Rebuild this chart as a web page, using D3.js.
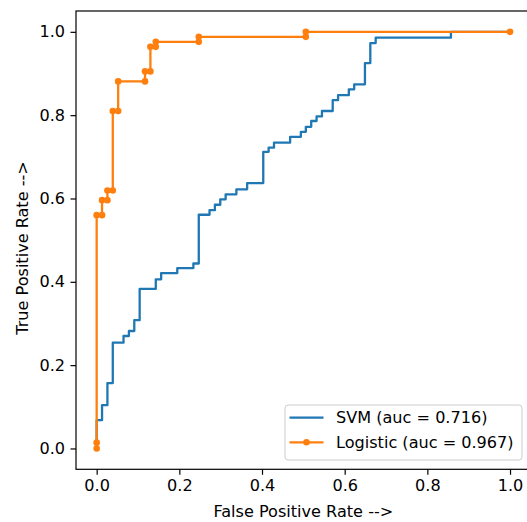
<!DOCTYPE html>
<html>
<head>
<meta charset="utf-8">
<script src="https://cdn.jsdelivr.net/npm/d3@7"></script>
<style>
  html, body { margin: 0; padding: 0; background: #fff; }
  #chart { width: 527px; height: 522px; overflow: hidden; }
  svg { display: block; font-family: "DejaVu Sans", sans-serif; }
</style>
</head>
<body>
<div id="chart"></div>
<script>
// ROC curve points (fpr, tpr)
const svmFpr = [0, 0, 0.013, 0.013, 0.026, 0.026, 0.039, 0.039, 0.065, 0.065, 0.078, 0.078, 0.091, 0.091,
  0.104, 0.104, 0.143, 0.143, 0.156, 0.156, 0.195, 0.195, 0.234, 0.234, 0.247, 0.247, 0.273, 0.273,
  0.286, 0.286, 0.299, 0.299, 0.312, 0.312, 0.338, 0.338, 0.364, 0.364, 0.403, 0.403, 0.416, 0.416,
  0.429, 0.429, 0.468, 0.468, 0.494, 0.494, 0.506, 0.506, 0.519, 0.519, 0.532, 0.532, 0.545, 0.545,
  0.571, 0.571, 0.584, 0.584, 0.610, 0.610, 0.623, 0.623, 0.649, 0.649, 0.662, 0.662, 0.675, 0.675,
  0.857, 0.857, 1];
const svmTpr = [0, 0.068, 0.068, 0.104, 0.104, 0.157, 0.157, 0.254, 0.254, 0.270, 0.270, 0.282, 0.282, 0.308,
  0.308, 0.383, 0.383, 0.406, 0.406, 0.421, 0.421, 0.433, 0.433, 0.444, 0.444, 0.561, 0.561, 0.572,
  0.572, 0.585, 0.585, 0.598, 0.598, 0.610, 0.610, 0.622, 0.622, 0.637, 0.637, 0.712, 0.712, 0.722,
  0.722, 0.734, 0.734, 0.748, 0.748, 0.760, 0.760, 0.772, 0.772, 0.786, 0.786, 0.797, 0.797, 0.810,
  0.810, 0.836, 0.836, 0.848, 0.848, 0.862, 0.862, 0.874, 0.874, 0.925, 0.925, 0.973, 0.973, 0.986,
  0.986, 1, 1];

const logFpr = [0, 0, 0, 0.013, 0.013, 0.026, 0.026, 0.039, 0.039, 0.052, 0.052, 0.117, 0.117, 0.130,
  0.130, 0.143, 0.143, 0.247, 0.247, 0.506, 0.506, 1];
const logTpr = [0, 0.014, 0.560, 0.560, 0.596, 0.596, 0.619, 0.619, 0.810, 0.810, 0.881, 0.881, 0.905, 0.905,
  0.964, 0.964, 0.976, 0.976, 0.988, 0.988, 1, 1];

const seriesNames = ['SVM (auc = 0.716)', 'Logistic (auc = 0.967)'];
const tickValues = [0, 0.2, 0.4, 0.6, 0.8, 1.0];

const W = 527, H = 522;
const margin = { top: 11, left: 76 };
const width = 454.7, height = 458.3;
const fontSize = '16.1px';
const textColor = '#000';

const svg = d3.select('#chart').append('svg')
  .attr('width', W)
  .attr('height', H);

const g = svg.append('g')
  .attr('transform', `translate(${margin.left},${margin.top})`);

const x = d3.scaleLinear().domain([-0.05, 1.05]).range([0, width]);
const y = d3.scaleLinear().domain([-0.05, 1.05]).range([height, 0]);

// Axes
const xAxis = d3.axisBottom(x).tickValues(tickValues).tickFormat(d3.format('.1f'))
  .tickSizeOuter(0).tickSizeInner(5.5).tickPadding(4.5);
const yAxis = d3.axisLeft(y).tickValues(tickValues).tickFormat(d3.format('.1f'))
  .tickSizeOuter(0).tickSizeInner(5.5).tickPadding(5.5);

const gx = g.append('g').attr('transform', `translate(0,${height})`).call(xAxis);
const gy = g.append('g').call(yAxis);
[gx, gy].forEach(a => {
  a.select('.domain').remove();
  a.selectAll('.tick line').attr('stroke', textColor).attr('stroke-width', 1.2);
  a.selectAll('.tick text').attr('fill', textColor).style('font-size', fontSize)
    .style('font-family', '"DejaVu Sans", sans-serif');
});

// Lines
const line = d3.line()
  .x(d => x(d[0]))
  .y(d => y(d[1]));

const svmData = svmFpr.map((f, i) => [f, svmTpr[i]]);
const logData = logFpr.map((f, i) => [f, logTpr[i]]);

g.append('path')
  .datum(svmData)
  .attr('fill', 'none')
  .attr('stroke', '#1f77b4')
  .attr('stroke-width', 2.3)
  .attr('stroke-linejoin', 'round')
  .attr('d', line);

g.append('path')
  .datum(logData)
  .attr('fill', 'none')
  .attr('stroke', '#ff7f0e')
  .attr('stroke-width', 2.3)
  .attr('stroke-linejoin', 'round')
  .attr('d', line);

g.selectAll('.marker')
  .data(logData)
  .enter()
  .append('circle')
  .attr('class', 'marker')
  .attr('cx', d => x(d[0]))
  .attr('cy', d => y(d[1]))
  .attr('r', 3.3)
  .attr('fill', '#ff7f0e');

// Frame
g.append('rect')
  .attr('width', width)
  .attr('height', height)
  .attr('fill', 'none')
  .attr('stroke', textColor)
  .attr('stroke-width', 1.2);

// Axis labels
svg.append('text')
  .attr('x', margin.left + width / 2)
  .attr('y', 517)
  .attr('text-anchor', 'middle')
  .attr('fill', textColor)
  .style('font-size', fontSize)
  .text('False Positive Rate -->');

svg.append('text')
  .attr('transform', 'translate(28,248) rotate(-90)')
  .attr('text-anchor', 'middle')
  .attr('fill', textColor)
  .style('font-size', fontSize)
  .text('True Positive Rate -->');

// Legend
const legend = svg.append('g');
legend.append('rect')
  .attr('x', 285)
  .attr('y', 405)
  .attr('width', 237)
  .attr('height', 55)
  .attr('rx', 3)
  .attr('fill', '#fff')
  .attr('fill-opacity', 0.8)
  .attr('stroke', '#cccccc')
  .attr('stroke-width', 1);

const colors = ['#1f77b4', '#ff7f0e'];
const rowY = [417.7, 442.3];
seriesNames.forEach((name, i) => {
  legend.append('line')
    .attr('x1', 289.5).attr('x2', 323.5)
    .attr('y1', rowY[i]).attr('y2', rowY[i])
    .attr('stroke', colors[i])
    .attr('stroke-width', 2.3);
  if (i === 1) {
    legend.append('circle')
      .attr('cx', 306.5).attr('cy', rowY[i])
      .attr('r', 3.3)
      .attr('fill', colors[i]);
  }
  legend.append('text')
    .attr('x', 336)
    .attr('y', rowY[i])
    .attr('dy', '0.35em')
    .attr('fill', textColor)
    .style('font-size', fontSize)
    .text(name);
});
</script>
</body>
</html>
